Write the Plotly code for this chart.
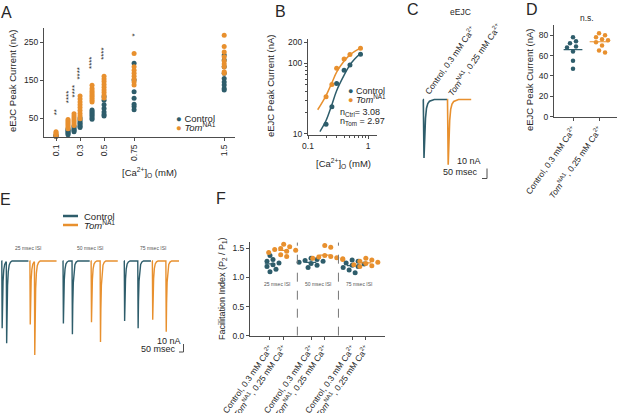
import numpy as np
import plotly.graph_objects as go

W, H = 617, 413
CTRL = "#2E5D6B"
TOM = "#E8902E"
AXC = "#4d4d4d"
TXT = "#262626"
FONT = "Liberation Sans, Arial, sans-serif"

# ---- A: eEJC peak current vs [Ca2+]o (nA)
ca_a = [0.1, 0.2, 0.25, 0.3, 0.4, 0.5, 0.75, 1.5]
ctrl_a_010 = [1, 3, 5]
tom_a_010 = [2, 5, 8, 11, 14]
ctrl_a_020 = [6, 9, 12, 15, 18, 21]
tom_a_020 = [22, 26, 30, 34, 38, 42, 46]
ctrl_a_025 = [14, 17, 20, 24, 28]
tom_a_025 = [30, 35, 40, 45, 50, 55, 61]
ctrl_a_030 = [25, 28, 32, 36, 40, 45, 50]
tom_a_030 = [48, 55, 62, 70, 78, 85, 92, 100, 108]
ctrl_a_040 = [47, 51, 55, 59, 63, 67, 71]
tom_a_040 = [92, 97, 102, 107, 112, 117, 122, 128, 136]
ctrl_a_050 = [55, 59, 66, 75, 85, 97, 106]
tom_a_050 = [103, 110, 117, 124, 131, 138, 146, 153, 160]
ctrl_a_075 = [72, 80, 86, 102, 119, 150, 194]
tom_a_075 = [137, 145, 152, 160, 168, 176, 185, 220]
ctrl_a_150 = [124, 128, 137, 145, 154, 168, 185, 203, 216]
tom_a_150 = [168, 172, 185, 192, 200, 211, 224, 238, 268]
stars_a = ["**", "****", "****", "****", "****", "****", "*", "**"]

# ---- B: log-log dose response, means and fits
ca_b = [0.2, 0.25, 0.3, 0.4, 0.5, 0.75]
ctrl_b = [13.7, 24.3, 52, 80, 95, 135]
tom_b = [33.7, 50, 85, 115, 134, 163]
fit_ca_ctrl = [0.158, 0.2, 0.25, 0.3, 0.4, 0.5, 0.6, 0.76]
fit_ctrl = [10.8, 15.5, 26, 41, 68, 95, 115, 140]
fit_ca_tom = [0.145, 0.2, 0.25, 0.3, 0.4, 0.5, 0.6, 0.76]
fit_tom = [22, 35, 53, 75, 108, 132, 148, 166]
n_ctrl, n_tom = 3.08, 2.97

# ---- C: example eEJC traces (nA), shape
c_amp_ctrl, c_amp_tom = 60, 67
c_shape_t = [0, 7, 14, 22, 32, 45, 62, 85, 110]
c_shape_v = [0, -1, -0.6, -0.32, -0.15, -0.07, -0.03, -0.01, 0]

# ---- D: eEJC peak current, single NMJs (nA)
d_ctrl = [78, 74, 72, 69, 68, 64, 55, 47]
d_tom = [82, 80, 78, 76, 75, 73, 70, 65, 63]

# ---- E: paired-pulse traces (nA)
isi_e = [25, 50, 75]
e_ctrl_p1 = [56, 52, 50]
e_ctrl_p2 = [68, 61, 56]
e_tom_p1 = [53, 51, 49]
e_tom_p2 = [78, 67.5, 59]
e_shape_t = [0, 2, 4, 7, 11, 16, 23, 32]
e_shape_v = [0, -1, -0.6, -0.3, -0.13, -0.05, -0.015, 0]

# ---- F: facilitation index P2/P1
f_ctrl_25 = [1.38, 1.31, 1.28, 1.25, 1.22, 1.19, 1.14, 1.10]
f_tom_25 = [1.57, 1.53, 1.50, 1.48, 1.47, 1.45, 1.43, 1.39, 1.36]
f_ctrl_50 = [1.33, 1.31, 1.29, 1.28, 1.26, 1.24, 1.21, 1.17]
f_tom_50 = [1.55, 1.52, 1.38, 1.36, 1.35, 1.34, 1.33, 1.32, 1.31]
f_ctrl_75 = [1.30, 1.28, 1.25, 1.23, 1.21, 1.19, 1.17, 1.13, 1.08]
f_tom_75 = [1.33, 1.30, 1.28, 1.26, 1.24, 1.22, 1.20, 1.19]
f_stars = ["****", "**", "n.s."]


def fx(px):
    return px / W


def fy(py):
    return 1 - py / H


def sweep(t0, length, stims, amps, shape_t, shape_v):
    t = [t0, t0 + length]
    for s in stims:
        t += [s + v for v in shape_t]
    t = np.unique(np.array(t, dtype=float))
    t = t[(t >= t0) & (t <= t0 + length)]
    y = np.zeros_like(t)
    for s, a in zip(stims, amps):
        y += a * np.interp(t - s, shape_t, shape_v, left=0, right=0)
    return t, y


def swarm(vals, ypx, xpx, d):
    pts, offs = [], []
    for v in vals:
        y = v * ypx
        o = 0
        for k in range(12):
            o = ((k + 1) // 2) * d * 0.6 * (1 if k % 2 else -1) if k else 0
            if all((o - a) ** 2 + (y - b) ** 2 >= (0.95 * d) ** 2 for a, b in pts):
                break
        pts.append((o, y))
        offs.append(o / xpx)
    return offs


fig = go.Figure()

# A
ctrl_a = [ctrl_a_010, ctrl_a_020, ctrl_a_025, ctrl_a_030, ctrl_a_040, ctrl_a_050, ctrl_a_075, ctrl_a_150]
tom_a = [tom_a_010, tom_a_020, tom_a_025, tom_a_030, tom_a_040, tom_a_050, tom_a_075, tom_a_150]
for c, vals in zip(ca_a, ctrl_a):
    fig.add_trace(go.Scatter(x=[c] * len(vals), y=vals, mode="markers", cliponaxis=False,
                             marker=dict(color=CTRL, size=5), xaxis="x", yaxis="y"))
for c, vals in zip(ca_a, tom_a):
    fig.add_trace(go.Scatter(x=[c] * len(vals), y=vals, mode="markers", cliponaxis=False,
                             marker=dict(color=TOM, size=5), xaxis="x", yaxis="y"))

# B
fig.add_trace(go.Scatter(x=fit_ca_tom, y=fit_tom, mode="lines", line=dict(color=TOM, width=1.5, shape="spline"),
                         xaxis="x2", yaxis="y2"))
fig.add_trace(go.Scatter(x=fit_ca_ctrl, y=fit_ctrl, mode="lines", line=dict(color=CTRL, width=1.5, shape="spline"),
                         xaxis="x2", yaxis="y2"))
fig.add_trace(go.Scatter(x=ca_b, y=tom_b, mode="markers", marker=dict(color=TOM, size=5), xaxis="x2", yaxis="y2"))
fig.add_trace(go.Scatter(x=ca_b, y=ctrl_b, mode="markers", marker=dict(color=CTRL, size=5), xaxis="x2", yaxis="y2"))

# C
SWEEP_C = 240
for i, (amp, col) in enumerate([(c_amp_ctrl, CTRL), (c_amp_tom, TOM)]):
    t0 = 30 + i * (SWEEP_C + 2)
    t, y = sweep(t0, SWEEP_C, [t0 + 3], [amp], c_shape_t, c_shape_v)
    fig.add_trace(go.Scatter(x=t, y=y, mode="lines", line=dict(color=col, width=1.6),
                             xaxis="x3", yaxis="y3"))

# D
for i, (vals, col) in enumerate([(d_ctrl, CTRL), (d_tom, TOM)]):
    offs = swarm(vals, 91.7 / 90, 26, 5)
    fig.add_trace(go.Scatter(x=[i + o for o in offs], y=vals, mode="markers", cliponaxis=False,
                             marker=dict(color=col, size=4.5), xaxis="x4", yaxis="y4"))
    m = float(np.mean(vals))
    fig.add_trace(go.Scatter(x=[i - 0.36, i + 0.36], y=[m, m], mode="lines", line=dict(color=col, width=1.2),
                             xaxis="x4", yaxis="y4"))

# E
SWEEP_E = 150
for g, isi in enumerate(isi_e):
    t0 = 8 + g * (2 * SWEEP_E + 40)
    for j, (p1, p2, col) in enumerate([(e_ctrl_p1[g], e_ctrl_p2[g], CTRL), (e_tom_p1[g], e_tom_p2[g], TOM)]):
        s0 = t0 + j * (SWEEP_E + 6)
        t, y = sweep(s0, SWEEP_E, [s0 + 2, s0 + 2 + isi], [p1, p2], e_shape_t, e_shape_v)
        fig.add_trace(go.Scatter(x=t, y=y, mode="lines", line=dict(color=col, width=1.4),
                                 xaxis="x5", yaxis="y5"))

# F
f_groups = [(f_ctrl_25, f_tom_25), (f_ctrl_50, f_tom_50), (f_ctrl_75, f_tom_75)]
for g, (fc, ft) in enumerate(f_groups):
    for j, (vals, col) in enumerate([(fc, CTRL), (ft, TOM)]):
        pos = 1 + 3 * g + j
        offs = swarm(vals, 58.2, 13.7, 5)
        fig.add_trace(go.Scatter(x=[pos + o for o in offs], y=vals, mode="markers", cliponaxis=False,
                                 marker=dict(color=col, size=5), xaxis="x6", yaxis="y6"))
        m = float(np.mean(vals))
        fig.add_trace(go.Scatter(x=[pos - 0.38, pos + 0.38], y=[m, m], mode="lines",
                                 line=dict(color=col, width=1.3), xaxis="x6", yaxis="y6"))

# axes
base = dict(showline=True, linecolor=AXC, linewidth=1, ticks="outside", ticklen=3, tickcolor=AXC,
            tickwidth=1, showgrid=False, zeroline=False, automargin=False,
            tickfont=dict(size=8.5, color=TXT, family=FONT))
hidden = dict(visible=False, showgrid=False, zeroline=False, automargin=False)
ctrl_lbl = "Control, 0.3 mM Ca<sup>2+</sup>"
tom_lbl = "<i>Tom</i><sup>NA1</sup>, 0.25 mM Ca<sup>2+</sup>"

fig.update_layout(
    template="none",
    width=W, height=H, margin=dict(l=0, r=0, t=0, b=0, pad=0),
    paper_bgcolor="white", plot_bgcolor="white", showlegend=False,
    font=dict(family=FONT, color=TXT),
    xaxis=dict(base, domain=[fx(44), fx(235)], range=[0, 1.59], anchor="y",
               tickvals=[0.1, 0.3, 0.5, 0.75, 1.5], ticktext=["0.1", "0.3", "0.5", "0.75", "1.5"], tickangle=-90),
    yaxis=dict(base, domain=[fy(137), fy(28)], range=[0, 287], anchor="x", tickvals=[50, 150, 250]),
    xaxis2=dict(base, type="log", domain=[fx(308), fx(377)], range=[-1, 0.15], anchor="y2",
                tickvals=[0.1, 1], ticktext=["0.1", "1"],
                minor=dict(tickvals=[0.2, 0.3, 0.4, 0.5, 0.6, 0.7, 0.8, 0.9], ticks="outside", ticklen=2,
                           tickcolor=AXC)),
    yaxis2=dict(base, type="log", domain=[fy(135), fy(39)], range=[0.985, 2.345], anchor="x2",
                tickvals=[10, 100, 200], ticktext=["10", "100", "200"],
                minor=dict(tickvals=[20, 30, 40, 50, 60, 70, 80, 90], ticks="outside", ticklen=2,
                           tickcolor=AXC)),
    xaxis3=dict(hidden, domain=[fx(420), fx(480)], range=[0, 600], anchor="y3"),
    yaxis3=dict(hidden, domain=[fy(172), fy(95)], range=[-74.4, 4.6], anchor="x3"),
    xaxis4=dict(base, domain=[fx(554), 1], range=[-0.73, 1.69], anchor="y4",
                tickvals=[0, 1], ticktext=[ctrl_lbl, tom_lbl], tickangle=-55),
    yaxis4=dict(base, domain=[fy(116.7), fy(25)], range=[0, 90], anchor="x4", tickvals=[0, 20, 40, 60, 80]),
    xaxis5=dict(hidden, domain=[0, fx(190)], range=[0, 1055], anchor="y5"),
    yaxis5=dict(hidden, domain=[fy(365), fy(255)], range=[-86.7, 5], anchor="x5"),
    xaxis6=dict(base, domain=[fx(250), fx(385)], range=[-0.46, 9.4], anchor="y6",
                tickvals=[1, 2, 4, 5, 7, 8], ticktext=[ctrl_lbl, tom_lbl] * 3, tickangle=-55),
    yaxis6=dict(base, domain=[fy(335.7), fy(241.7)], range=[0, 1.615], anchor="x6",
                tickvals=[0, 0.5, 1.0, 1.5], ticktext=["0.0", "0.5", "1.0", "1.5"]),
)

ann = []


def label(px, py, text, size=9.5, color=TXT, xanchor="center", yanchor="middle", **kw):
    ann.append(dict(x=fx(px), y=fy(py), xref="paper", yref="paper", text=text, showarrow=False,
                    xanchor=xanchor, yanchor=yanchor,
                    font=dict(size=size, color=color, family=FONT), **kw))


for L, px, py in [("A", 6, 13), ("B", 280, 12), ("C", 413, 9), ("D", 532, 9), ("E", 5, 200), ("F", 221, 199)]:
    label(px, py, L, size=16)

# A texts
label(12, 81, "eEJC Peak Current (nA)", textangle=-90)
label(149, 173, "[Ca<sup>2+</sup>]<sub>O</sub> (mM)")
label(174, 118, f"<span style='color:{CTRL}'>●</span> Control", size=9.5, xanchor="left")
label(174, 127, f"<span style='color:{TOM}'>●</span> <i>Tom</i><sup>NA1</sup>", size=9.5, xanchor="left")
for c, vals, s in zip(ca_a, tom_a, stars_a):
    ann.append(dict(x=c, y=max(vals) + 38, xref="x", yref="y", text=s, showarrow=False, textangle=-90,
                    xanchor="center", yanchor="bottom", font=dict(size=8, color=TXT, family=FONT)))

# B texts
label(271, 86, "eEJC Peak Current (nA)", textangle=-90)
label(343, 163, "[Ca<sup>2+</sup>]<sub>O</sub> (mM)")
label(346, 91, f"<span style='color:{CTRL}'>●</span> Control", size=9, xanchor="left")
label(346, 99.5, f"<span style='color:{TOM}'>●</span> <i>Tom</i><sup>NA1</sup>", size=9, xanchor="left")
label(338, 112.5, f"n<sub>Ctrl</sub>= {n_ctrl:.2f}", size=9, xanchor="left")
label(338, 122, f"n<sub>Tom</sub> = {n_tom:.2f}", size=9, xanchor="left")

# C texts
label(460, 12, "eEJC", size=8.5)
label(451, 60, ctrl_lbl, size=8.5, textangle=-55)
label(475, 60, tom_lbl, size=8.5, textangle=-55)
label(483, 161, "10 nA", size=9, xanchor="right")
label(480, 172, "50 msec", size=9, xanchor="right")

# D texts
label(529, 80, "eEJC Peak Current (nA)", textangle=-90)
label(587, 18, "n.s.", size=8.5)

# E texts
label(82, 216, "Control", size=9.5, xanchor="left")
label(82, 225, "<i>Tom</i><sup>NA1</sup>", size=9.5, xanchor="left")
for isi, px in zip(isi_e, [28, 90, 153]):
    label(px, 248, f"{isi} msec ISI", size=5, color="#555555")
label(183, 340.5, "10 nA", size=9, xanchor="right")
label(178, 349, "50 msec", size=9, xanchor="right")

# F texts
label(222, 289, "Facilitation Index (P<sub>2</sub> / P<sub>1</sub>)", size=9, textangle=-90)
for g, (s, isi) in enumerate(zip(f_stars, isi_e)):
    ann.append(dict(x=1.5 + 3 * g, y=1.745, xref="x6", yref="y6", text=s, showarrow=False,
                    xanchor="center", yanchor="bottom", font=dict(size=8.5, color=TXT, family=FONT)))
    ann.append(dict(x=1.5 + 3 * g, y=0.89, xref="x6", yref="y6", text=f"{isi} msec ISI", showarrow=False,
                    xanchor="center", yanchor="middle", font=dict(size=5, color="#555555", family=FONT)))

fig.update_layout(annotations=ann)

shapes = [
    # E legend lines
    dict(type="line", xref="paper", yref="paper", x0=fx(63), x1=fx(78), y0=fy(216), y1=fy(216),
         line=dict(color=CTRL, width=2.5)),
    dict(type="line", xref="paper", yref="paper", x0=fx(63), x1=fx(78), y0=fy(225), y1=fy(225),
         line=dict(color=TOM, width=2.5)),
    # scale bars C
    dict(type="line", xref="paper", yref="paper", x0=fx(487), x1=fx(487), y0=fy(168.5), y1=fy(178.5),
         line=dict(color=AXC, width=1)),
    dict(type="line", xref="paper", yref="paper", x0=fx(482), x1=fx(487), y0=fy(178.5), y1=fy(178.5),
         line=dict(color=AXC, width=1)),
    # scale bars E
    dict(type="line", xref="paper", yref="paper", x0=fx(183.5), x1=fx(183.5), y0=fy(344), y1=fy(352),
         line=dict(color=AXC, width=1)),
    dict(type="line", xref="paper", yref="paper", x0=fx(179), x1=fx(183.5), y0=fy(352), y1=fy(352),
         line=dict(color=AXC, width=1)),
    # D significance bar
    dict(type="line", xref="x4", yref="y4", x0=0, x1=1, y0=92, y1=92, line=dict(color=AXC, width=1)),
]
for g in range(3):
    shapes.append(dict(type="line", xref="x6", yref="y6", x0=0.95 + 3 * g, x1=2.05 + 3 * g, y0=1.73, y1=1.73,
                       line=dict(color=AXC, width=1)))
for xs in [3, 6]:
    shapes.append(dict(type="line", xref="x6", yref="y6", x0=xs, x1=xs, y0=0, y1=1.6,
                       line=dict(color="#777777", width=1, dash="dash")))
fig.update_layout(shapes=shapes)

# the page body has an 8px default margin; drop it so the figure fills the window
fig.write_html("out.html", config={"displayModeBar": False},
               post_script="document.body.style.margin='0';")
